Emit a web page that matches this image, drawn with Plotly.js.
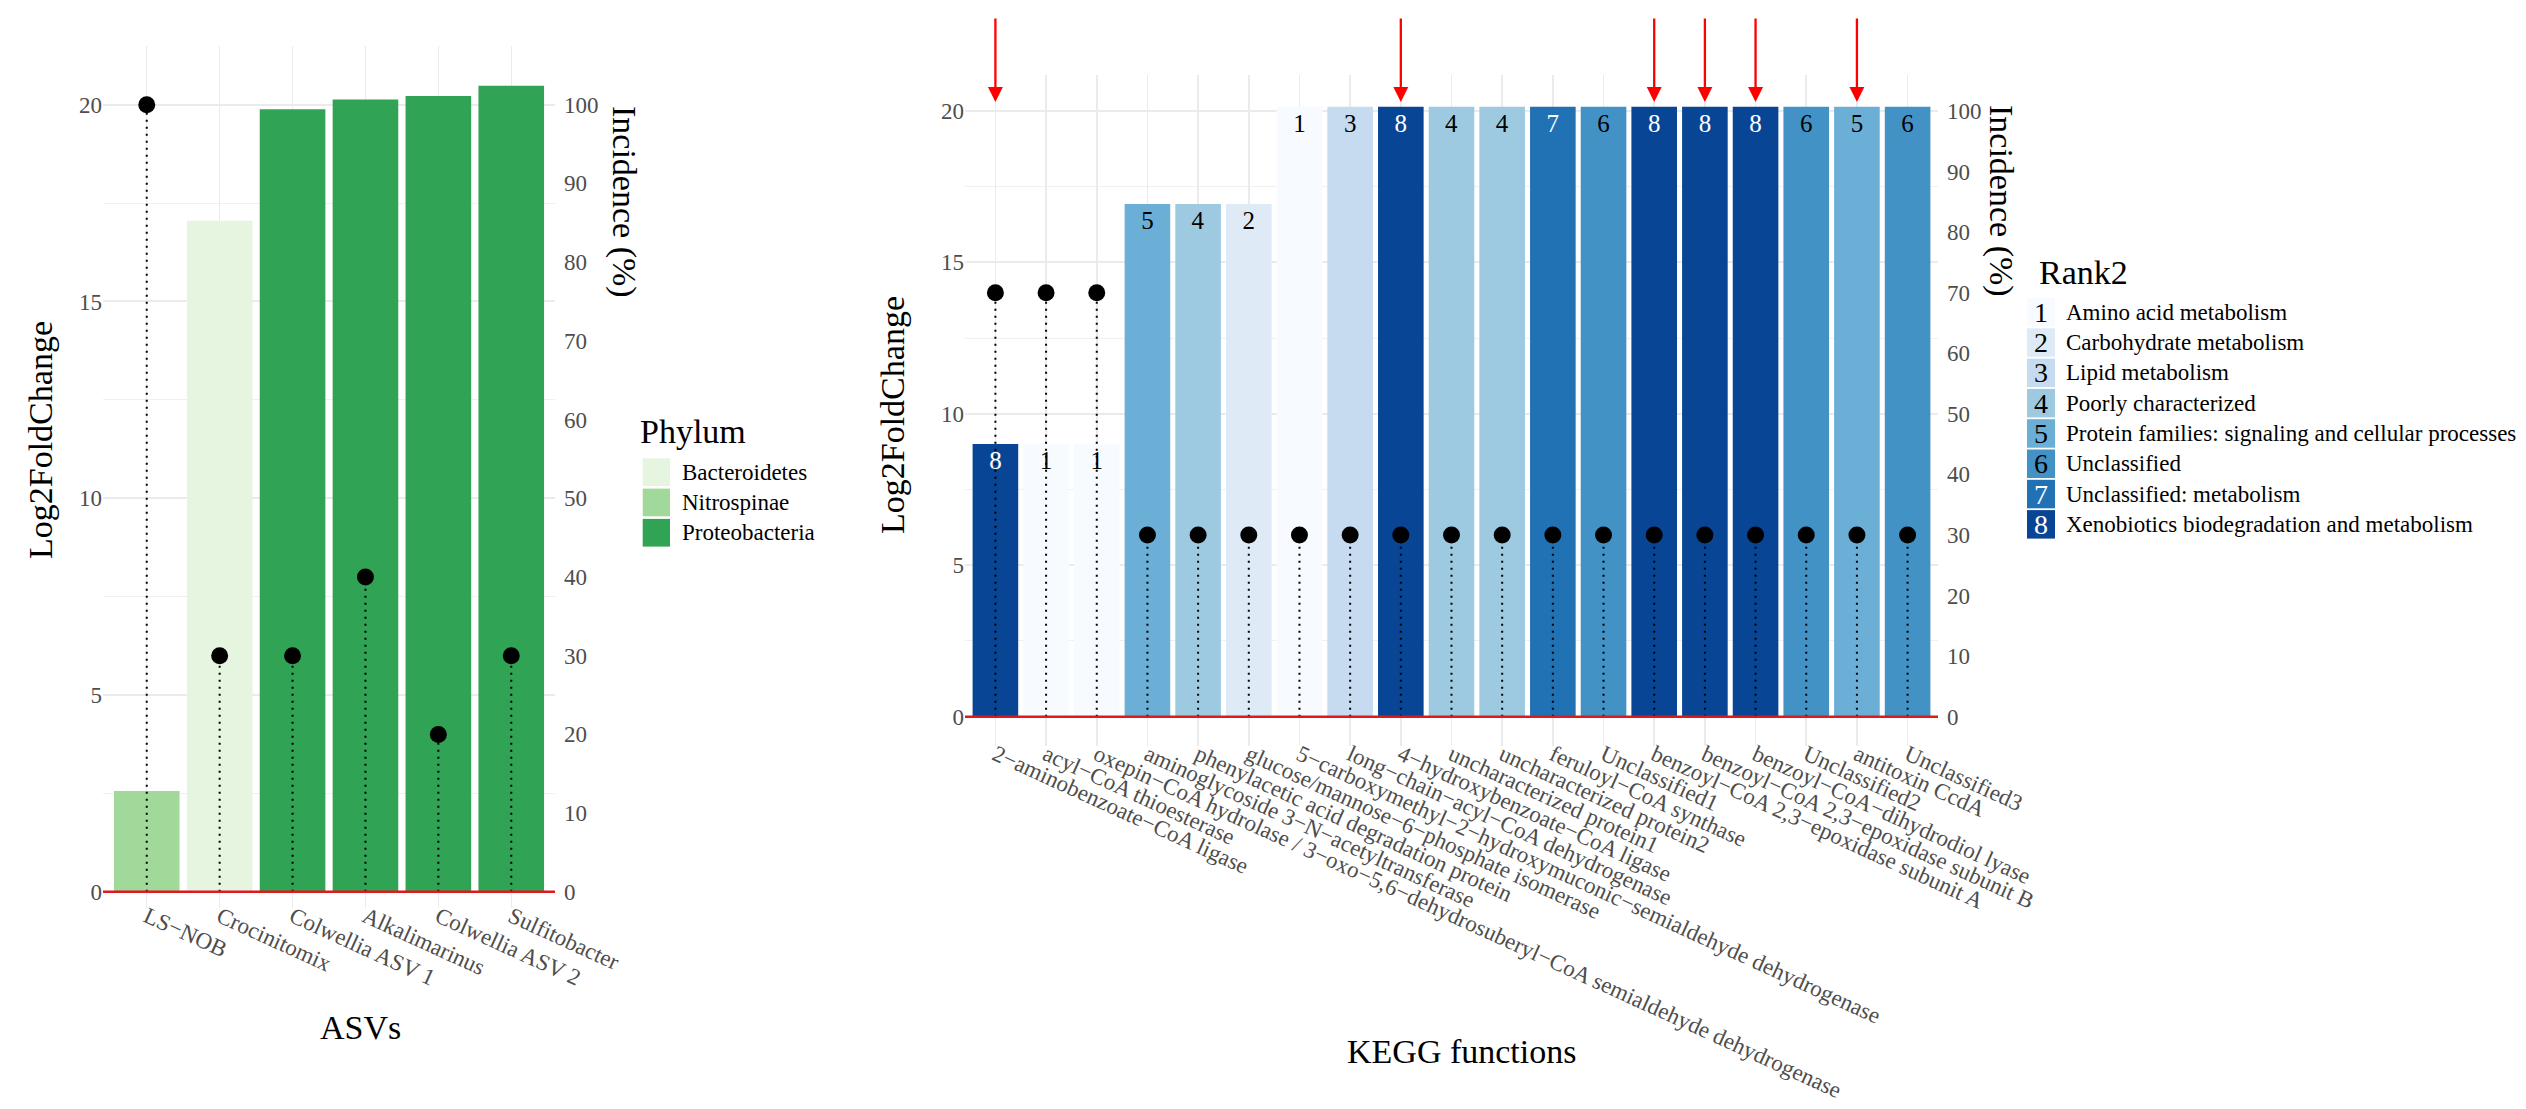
<!DOCTYPE html>
<html>
<head>
<meta charset="utf-8">
<script src="https://cdn.plot.ly/plotly-3.0.1.min.js"></script>
<style>html,body{margin:0;padding:0;background:#fff;}#chart{width:2526px;height:1109px;}</style>
</head>
<body>
<div id="chart"></div>
<script>
// ---------------- DATA ----------------
const asvNames = ["LS−NOB", "Crocinitomix", "Colwellia ASV 1", "Alkalimarinus", "Colwellia ASV 2", "Sulfitobacter"];
const asvLFC = [2.56, 17.05, 19.88, 20.13, 20.22, 20.48];
const asvIncidence = [100, 30, 30, 40, 20, 30];
const asvPhylum = ["Nitrospinae", "Bacteroidetes", "Proteobacteria", "Proteobacteria", "Proteobacteria", "Proteobacteria"];
const phylumNames = ["Bacteroidetes", "Nitrospinae", "Proteobacteria"];
const phylumColors = ["#E5F5E0", "#A1D99B", "#31A354"];

const keggNames = [
  "2−aminobenzoate−CoA ligase",
  "acyl−CoA thioesterase",
  "oxepin−CoA hydrolase / 3−oxo−5,6−dehydrosuberyl−CoA semialdehyde dehydrogenase",
  "aminoglycoside 3−N−acetyltransferase",
  "phenylacetic acid degradation protein",
  "glucose/mannose−6−phosphate isomerase",
  "5−carboxymethyl−2−hydroxymuconic−semialdehyde dehydrogenase",
  "long−chain−acyl−CoA dehydrogenase",
  "4−hydroxybenzoate−CoA ligase",
  "uncharacterized protein1",
  "uncharacterized protein2",
  "feruloyl−CoA synthase",
  "Unclassified1",
  "benzoyl−CoA 2,3−epoxidase subunit A",
  "benzoyl−CoA 2,3−epoxidase subunit B",
  "benzoyl−CoA−dihydrodiol lyase",
  "Unclassified2",
  "antitoxin CcdA",
  "Unclassified3"
];
const keggLFC = [9.0, 9.0, 9.0, 16.93, 16.93, 16.93, 20.14, 20.14, 20.14, 20.14, 20.14, 20.14, 20.14, 20.14, 20.14, 20.14, 20.14, 20.14, 20.14];
const keggIncidence = [70, 70, 70, 30, 30, 30, 30, 30, 30, 30, 30, 30, 30, 30, 30, 30, 30, 30, 30];
const keggRank = [8, 1, 1, 5, 4, 2, 1, 3, 8, 4, 4, 7, 6, 8, 8, 8, 6, 5, 6];
const rank2Names = ["Amino acid metabolism", "Carbohydrate metabolism", "Lipid metabolism", "Poorly characterized",
  "Protein families: signaling and cellular processes", "Unclassified", "Unclassified: metabolism",
  "Xenobiotics biodegradation and metabolism"];
const rank2Colors = ["#F7FBFF", "#DEEBF7", "#C6DBEF", "#9ECAE1", "#6BAED6", "#4292C6", "#2171B5", "#084594"];
const rank2TextColors = ["#000000", "#000000", "#000000", "#000000", "#000000", "#000000", "#FFFFFF", "#FFFFFF"];
const arrowedFunctions = [
  "2−aminobenzoate−CoA ligase",
  "4−hydroxybenzoate−CoA ligase",
  "benzoyl−CoA 2,3−epoxidase subunit A",
  "benzoyl−CoA 2,3−epoxidase subunit B",
  "benzoyl−CoA−dihydrodiol lyase",
  "antitoxin CcdA"
];
const lfcTicks = [0, 5, 10, 15, 20];
const incTicks = [0, 10, 20, 30, 40, 50, 60, 70, 80, 90, 100];

// ---------------- LAYOUT HELPERS ----------------
const W = 2526, H = 1109;
const PX = v => v / W;
const PY = v => 1 - v / H;
const FONT = "Liberation Serif, Times New Roman, serif";
const TICKFONT = {family: FONT, size: 23, color: "#4D4D4D"};
const GRID = "#EBEBEB";

function stems(cats, vals) {
  const xs = [], ys = [];
  cats.forEach((c, i) => { xs.push(c, c, null); ys.push(0, vals[i], null); });
  return {xs, ys};
}

const leftStems = stems(asvNames, asvIncidence);
const rightStems = stems(keggNames, keggIncidence);

const traces = [
  {
    type: "bar", x: asvNames, y: asvLFC, xaxis: "x", yaxis: "y", width: 0.9,
    marker: {color: asvPhylum.map(p => phylumColors[phylumNames.indexOf(p)]), line: {width: 0}},
    hoverinfo: "skip", showlegend: false
  },
  {
    type: "scatter", mode: "lines", x: leftStems.xs, y: leftStems.ys, xaxis: "x", yaxis: "y2",
    line: {color: "#000000", width: 2, dash: "2px,5px"}, hoverinfo: "skip", showlegend: false, connectgaps: false
  },
  {
    type: "scatter", mode: "markers", x: asvNames, y: asvIncidence, xaxis: "x", yaxis: "y2",
    marker: {color: "#000000", size: 17}, hoverinfo: "skip", showlegend: false, cliponaxis: false
  },
  {
    type: "bar", x: keggNames, y: keggLFC, xaxis: "x2", yaxis: "y3", width: 0.9,
    marker: {color: keggRank.map(r => rank2Colors[r - 1]), line: {width: 0}},
    text: keggRank.map(String), textposition: "inside", insidetextanchor: "end", textangle: 0,
    constraintext: "none",
    textfont: {family: FONT, size: 25, color: keggRank.map(r => rank2TextColors[r - 1])},
    hoverinfo: "skip", showlegend: false
  },
  {
    type: "scatter", mode: "lines", x: rightStems.xs, y: rightStems.ys, xaxis: "x2", yaxis: "y4",
    line: {color: "#000000", width: 2, dash: "2px,5px"}, hoverinfo: "skip", showlegend: false, connectgaps: false
  },
  {
    type: "scatter", mode: "markers", x: keggNames, y: keggIncidence, xaxis: "x2", yaxis: "y4",
    marker: {color: "#000000", size: 17}, hoverinfo: "skip", showlegend: false, cliponaxis: false
  }
];

const baseX = {
  type: "category", showgrid: true, gridcolor: GRID, gridwidth: 1.5, zeroline: false, showline: false,
  ticks: "", tickangle: 24.5, tickfont: TICKFONT, automargin: false, fixedrange: true, ticklabelstandoff: -10
};
const baseY = {
  showgrid: true, gridcolor: GRID, gridwidth: 2, zeroline: false, showline: false, ticks: "",
  tickfont: TICKFONT, automargin: false, fixedrange: true,
  tickmode: "array", tickvals: lfcTicks, ticktext: lfcTicks.map(String),
  minor: {tickmode: "linear", tick0: 2.5, dtick: 5, showgrid: true, gridcolor: "#F0F0F0", gridwidth: 1, ticks: ""}
};
const baseY2 = {
  showgrid: false, zeroline: false, showline: false, ticks: "", side: "right",
  tickfont: TICKFONT, automargin: false, fixedrange: true, ticklabelstandoff: 8,
  tickmode: "array", tickvals: incTicks, ticktext: incTicks.map(String)
};

const layout = {
  width: W, height: H,
  margin: {l: 0, r: 0, t: 0, b: 0, pad: 0},
  paper_bgcolor: "#FFFFFF", plot_bgcolor: "#FFFFFF",
  showlegend: false,
  font: {family: FONT, color: "#000000"},
  xaxis: Object.assign({}, baseX, {domain: [PX(103), PX(555)], anchor: "y", range: [-0.6, asvNames.length - 0.4]}),
  yaxis: Object.assign({}, baseY, {domain: [PY(908), PY(46)], anchor: "x", range: [-0.41, 21.49]}),
  yaxis2: Object.assign({}, baseY2, {overlaying: "y", anchor: "x", range: [-0.41 * 5, 21.49 * 5]}),
  xaxis2: Object.assign({}, baseX, {domain: [PX(965), PX(1938)], anchor: "y3", range: [-0.6, keggNames.length - 0.4]}),
  yaxis3: Object.assign({}, baseY, {domain: [PY(746), PY(75)], anchor: "x2", range: [-0.97, 21.19]}),
  yaxis4: Object.assign({}, baseY2, {overlaying: "y3", anchor: "x2", range: [-0.97 * 5, 21.19 * 5]}),
  shapes: [],
  annotations: []
};

// red zero lines
[["x", "y"], ["x2", "y3"]].forEach(([xa, ya]) => {
  layout.shapes.push({type: "line", xref: xa + " domain", yref: ya, x0: 0, x1: 1, y0: 0, y1: 0,
    line: {color: "#E0191C", width: 2.5}, layer: "above"});
});

// axis titles
function title(text, x, y, angle) {
  layout.annotations.push({text, xref: "paper", yref: "paper", x: PX(x), y: PY(y),
    xanchor: "center", yanchor: "middle", showarrow: false, textangle: angle,
    font: {family: FONT, size: 34, color: "#000000"}});
}
title("Log2FoldChange", 40, 440, -90);
title("Incidence (%)", 624, 202, 90);
title("ASVs", 360, 1027, 0);
title("Log2FoldChange", 893, 415, -90);
title("Incidence (%)", 2001, 201, 90);
title("KEGG functions", 1461, 1051, 0);

// red arrows
arrowedFunctions.forEach(name => {
  layout.annotations.push({text: "", xref: "x2", yref: "paper", x: name, y: PY(102),
    showarrow: true, ax: 0, ay: -85, axref: "pixel", ayref: "pixel",
    arrowcolor: "#FF0000", arrowwidth: 2.3, arrowhead: 2, arrowsize: 1.3, standoff: 0, startstandoff: 0});
});

// Phylum legend
function legendTitle(text, x, y) {
  layout.annotations.push({text, xref: "paper", yref: "paper", x: PX(x), y: PY(y),
    xanchor: "left", yanchor: "middle", showarrow: false,
    font: {family: FONT, size: 34, color: "#000000"}});
}
legendTitle("Phylum", 638, 432);
phylumNames.forEach((name, i) => {
  const y0 = 458.3 + 30.3 * i, y1 = y0 + 27.7;
  layout.shapes.push({type: "rect", xref: "paper", yref: "paper", x0: PX(642.7), x1: PX(670),
    y0: PY(y1), y1: PY(y0), fillcolor: phylumColors[i], line: {width: 0}, layer: "above"});
  layout.annotations.push({text: name, xref: "paper", yref: "paper", x: PX(680), y: PY((y0 + y1) / 2),
    xanchor: "left", yanchor: "middle", showarrow: false,
    font: {family: FONT, size: 23, color: "#000000"}});
});

// Rank2 legend
legendTitle("Rank2", 2037, 272);
rank2Names.forEach((name, i) => {
  const y0 = 298 + 30.3 * i, y1 = y0 + 28.5;
  layout.shapes.push({type: "rect", xref: "paper", yref: "paper", x0: PX(2027), x1: PX(2055),
    y0: PY(y1), y1: PY(y0), fillcolor: rank2Colors[i], line: {width: 0}, layer: "above"});
  layout.annotations.push({text: String(i + 1), xref: "paper", yref: "paper", x: PX(2041), y: PY((y0 + y1) / 2),
    xanchor: "center", yanchor: "middle", showarrow: false,
    font: {family: FONT, size: 28, color: rank2TextColors[i]}});
  layout.annotations.push({text: name, xref: "paper", yref: "paper", x: PX(2064), y: PY((y0 + y1) / 2),
    xanchor: "left", yanchor: "middle", showarrow: false,
    font: {family: FONT, size: 23, color: "#000000"}});
});

Plotly.newPlot("chart", traces, layout, {staticPlot: true, displayModeBar: false});
</script>
</body>
</html>
